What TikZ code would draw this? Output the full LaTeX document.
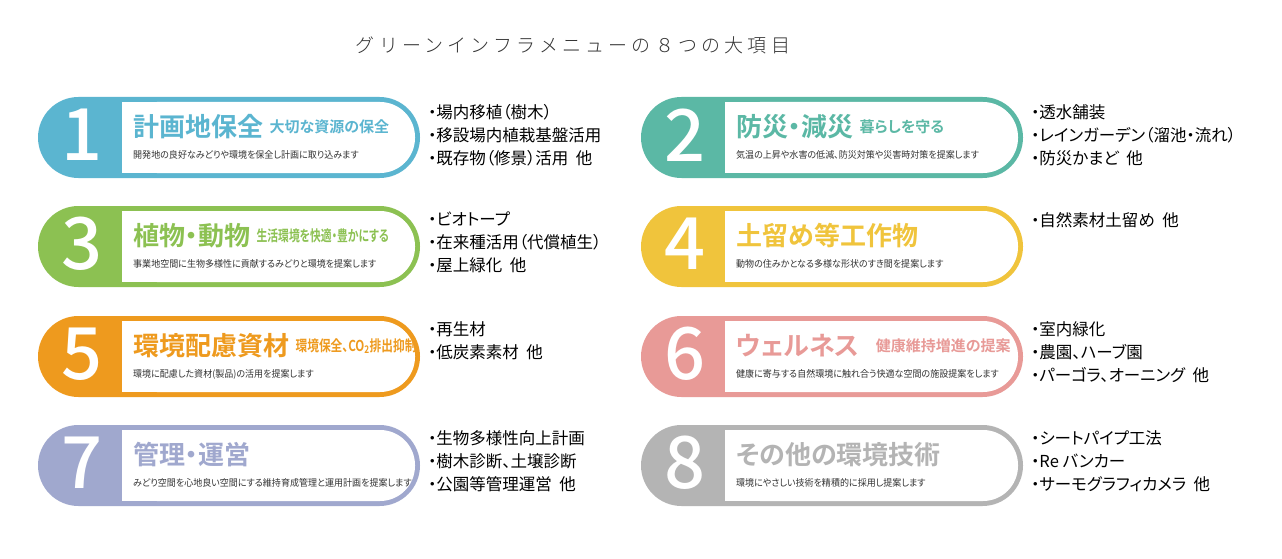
\documentclass[tikz,border=0pt]{standalone}
\usepackage{fontspec}
\usepackage{graphicx}
\setmainfont[RawFeature=+palt]{Noto Sans CJK JP}
\newfontfamily\jpb[RawFeature=+palt]{Noto Sans CJK JP Bold}
\newfontfamily\jph[LetterSpace=22]{Noto Sans CJK JP Light}
\newfontfamily\numf{Noto Sans CJK JP Medium}
\definecolor{c1}{HTML}{5BB5D0}
\definecolor{c2}{HTML}{5BB8A5}
\definecolor{c3}{HTML}{8CC152}
\definecolor{c4}{HTML}{F0C43C}
\definecolor{c5}{HTML}{EE9A1E}
\definecolor{c6}{HTML}{E89A97}
\definecolor{c7}{HTML}{A0A8CE}
\definecolor{c8}{HTML}{B4B4B4}
\definecolor{sub}{HTML}{333333}
\tikzset{
 numtxt/.style={text=white,font=\fontsize{72}{72}\numf,anchor=center},
 ttl/.style={anchor=west,font=\fontsize{26}{26}\jpb,inner sep=0pt},
 ttlsub/.style={anchor=west,font=\fontsize{15}{15}\jpb,inner sep=0pt},
 subtxt/.style={anchor=west,text=sub,font=\fontsize{9.5}{10}\selectfont,inner sep=0pt},
 lst/.style={anchor=north west,align=left,font=\fontsize{16.5}{23}\selectfont,inner sep=0pt},
}
\newcommand\boxitem[9]{%
 \fill[#3,rounded corners=40.5pt] (#1,#2) rectangle ++(382,81);
 \fill[white,rounded corners=35pt] (#1+84,#2+5) rectangle ++(293,71);
 \fill[white] (#1+84,#2+5) rectangle ++(40,71);
 \node[numtxt] (n#8) at (#1+44,#2+38) {#4};
 \node[ttl,text=#3] (t#8) at (#1+95,#2+30) {#5};
 \node[ttlsub,text=#3] (s#8) at ([xshift=6pt]t#8.east) {\scalebox{#9}[1]{#6}};
 \node[subtxt] (d#8) at (#1+95,#2+58) {\scalebox{0.95}[1]{#7}};
}
\begin{document}
\begin{tikzpicture}[x=1pt,y=-1pt]
\useasboundingbox (0,0) rectangle (1282,559);
\fill[white] (0,0) rectangle (1282,559);
\node[font=\fontsize{19}{19}\jph,text=sub] (head) at (573,45) {グリーンインフラメニューの８つの大項目};
\boxitem{38}{97}{c1}{1}{計画地保全}{大切な資源の保全}{開発地の良好なみどりや環境を保全し計画に取り込みます}{a}{1}
\boxitem{641}{97}{c2}{2}{防災・減災}{暮らしを守る}{気温の上昇や水害の低減、防災対策や災害時対策を提案します}{b}{1}
\boxitem{38}{206}{c3}{3}{植物・動物}{生活環境を快適・豊かにする}{事業地空間に生物多様性に貢献するみどりと環境を提案します}{c}{0.72}
\boxitem{641}{206}{c4}{4}{土留め等工作物}{}{動物の住みかとなる多様な形状のすき間を提案します}{d}{1}
\boxitem{38}{316}{c5}{5}{環境配慮資材}{環境保全、CO\textsubscript{2}排出抑制}{環境に配慮した資材(製品)の活用を提案します}{e}{0.78}
\boxitem{641}{316}{c6}{6}{ウェルネス}{\hspace{10pt}健康維持増進の提案}{健康に寄与する自然環境に触れ合う快適な空間の施設提案をします}{f}{1}
\boxitem{38}{425}{c7}{7}{管理・運営}{}{みどり空間を心地良い空間にする維持育成管理と運用計画を提案します}{g}{1}
\boxitem{641}{425}{c8}{8}{その他の環境技術}{}{環境にやさしい技術を精積的に採用し提案します}{h}{1}
\node[lst] (la) at (428,104) {・場内移植（樹木）\\・移設場内植栽基盤活用\\・既存物（修景）活用\ \ 他};
\node[lst] (lb) at (1031,104) {・透水舗装\\・レインガーデン（溜池・流れ）\\・防災かまど\ \ 他};
\node[lst] (lc) at (428,212) {・ビオトープ\\・在来種活用（代償植生）\\・屋上緑化\ \ 他};
\node[lst] (ld) at (1031,212) {・自然素材土留め\ \ 他};
\node[lst] (le) at (428,321) {・再生材\\・低炭素素材\ \ 他};
\node[lst] (lf) at (1031,321) {・室内緑化\\・農園、ハーブ園\\・パーゴラ、オーニング\ \ 他};
\node[lst] (lg) at (428,430) {・生物多様性向上計画\\・樹木診断、土壌診断\\・公園等管理運営\ \ 他};
\node[lst] (lh) at (1031,430) {・シートパイプ工法\\・Re バンカー\\・サーモグラフィカメラ\ \ 他};
\end{tikzpicture}
\end{document}
